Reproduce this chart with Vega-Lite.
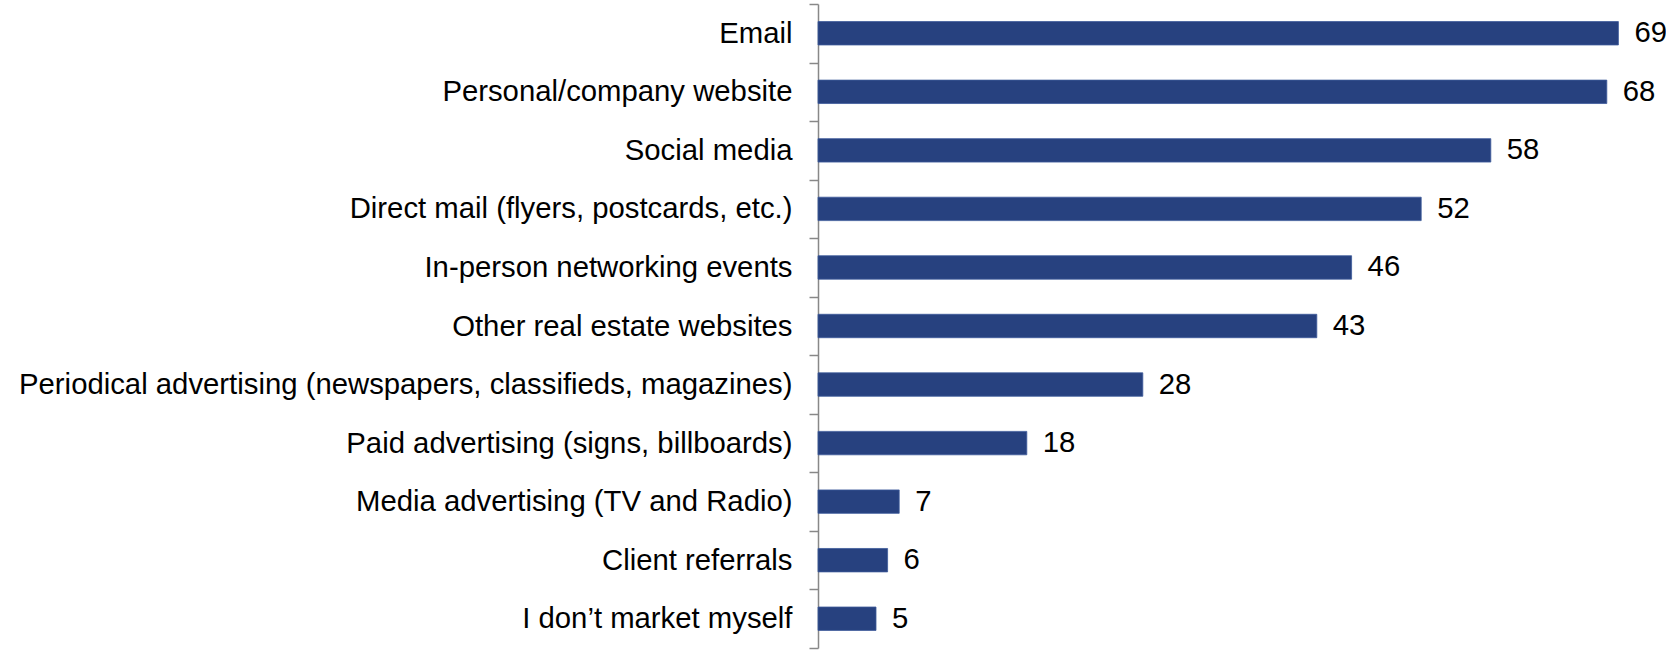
{
  "$schema": "https://vega.github.io/schema/vega-lite/v6.json",
  "autosize": "none",
  "padding": {"left": 818, "top": 4, "right": 36, "bottom": 2},
  "width": 812,
  "height": 644,
  "background": "white",
  "config": {"view": {"stroke": null}, "font": "Liberation Sans"},
  "data": {
    "values": [
      {"channel": "Email", "pct": 69},
      {"channel": "Personal/company website", "pct": 68},
      {"channel": "Social media", "pct": 58},
      {"channel": "Direct mail (flyers, postcards, etc.)", "pct": 52},
      {"channel": "In-person networking events", "pct": 46},
      {"channel": "Other real estate websites", "pct": 43},
      {"channel": "Periodical advertising (newspapers, classifieds, magazines)", "pct": 28},
      {"channel": "Paid advertising (signs, billboards)", "pct": 18},
      {"channel": "Media advertising (TV and Radio)", "pct": 7},
      {"channel": "Client referrals", "pct": 6},
      {"channel": "I don’t market myself", "pct": 5}
    ]
  },
  "encoding": {
    "y": {
      "field": "channel",
      "type": "nominal",
      "sort": null,
      "scale": {"paddingInner": 0, "paddingOuter": 0},
      "axis": {
        "title": null,
        "tickBand": "extent",
        "tickExtra": true,
        "labelFont": "Liberation Sans",
        "labelFontSize": 29.3,
        "labelColor": "#000000",
        "labelPadding": 17,
        "labelLimit": 900,
        "tickSize": 9,
        "tickColor": "#888888",
        "domainColor": "#888888",
        "tickWidth": 1.5,
        "domainWidth": 1.5
      }
    },
    "x": {
      "field": "pct",
      "type": "quantitative",
      "scale": {"domain": [0, 70]},
      "axis": null
    }
  },
  "layer": [
    {"mark": {"type": "bar", "height": {"band": 0.4}, "color": "#27417f", "stroke": "#3d5a9a", "strokeWidth": 0.8}},
    {
      "mark": {"type": "text", "align": "left", "baseline": "middle", "dx": 16, "fontSize": 29.3, "font": "Liberation Sans", "color": "#000000"},
      "encoding": {"text": {"field": "pct", "type": "quantitative"}}
    }
  ]
}
